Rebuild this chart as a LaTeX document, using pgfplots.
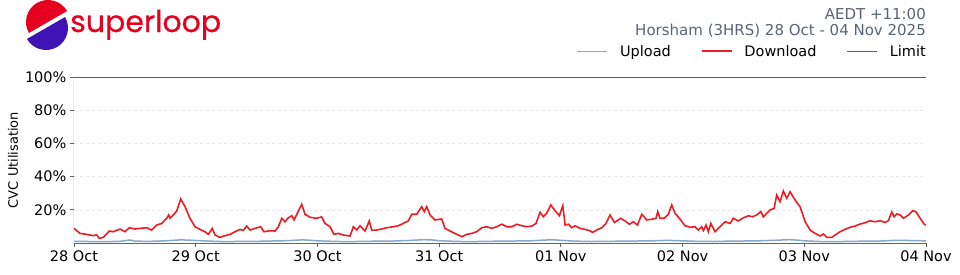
\documentclass[border=0pt]{standalone}
\usepackage{pgfplots}
\pgfplotsset{compat=1.18}
\usepackage{fontspec}
\setmainfont{DejaVu Sans}
\newfontfamily\logofont[FakeBold=0.6]{Poppins}
\definecolor{dl}{RGB}{238,28,36}
\definecolor{ul}{RGB}{135,168,205}
\definecolor{lim}{RGB}{80,80,200}
\definecolor{ttl}{RGB}{90,100,115}
\definecolor{axgray}{RGB}{100,100,100}
\definecolor{logored}{RGB}{228,0,30}
\definecolor{logopurple}{RGB}{64,20,180}

\pgfplotstableread{
x y
0 8.8
0.049 5.8
0.104 5.2
0.159 4.4
0.185 5.0
0.208 2.8
0.241 3.4
0.29 7.2
0.323 6.8
0.378 8.4
0.419 6.8
0.454 9.2
0.501 8.4
0.542 8.8
0.597 9.2
0.638 7.8
0.68 10.8
0.721 11.8
0.762 14.9
0.778 16.9
0.789 14.9
0.816 16.9
0.844 19.3
0.877 26.5
0.912 21.9
0.953 14.9
0.994 9.8
1.035 8.2
1.076 6.8
1.104 5.2
1.136 8.8
1.159 4.8
1.2 3.4
1.241 4.4
1.282 5.2
1.323 6.8
1.364 8.2
1.392 7.6
1.419 10.2
1.446 7.8
1.487 8.8
1.534 9.8
1.561 6.8
1.611 7.4
1.652 7.2
1.679 9.8
1.707 14.9
1.734 12.8
1.761 15.2
1.789 16.4
1.808 13.9
1.835 17.9
1.871 23.3
1.898 17.3
1.939 15.5
1.994 14.9
2.035 15.7
2.062 11.8
2.104 9.8
2.136 5.2
2.172 5.8
2.213 4.8
2.268 4.2
2.295 9.8
2.323 7.8
2.35 10.4
2.391 7.2
2.426 13.3
2.446 7.8
2.487 7.8
2.528 8.4
2.569 9.2
2.624 9.8
2.665 10.4
2.706 11.8
2.747 13.3
2.775 17.3
2.816 17.3
2.857 21.9
2.878 18.9
2.898 21.9
2.925 16.9
2.966 13.9
3.021 14.5
3.048 8.8
3.09 7.2
3.145 5.2
3.186 3.8
3.227 5.2
3.268 5.8
3.309 6.8
3.35 9.2
3.391 9.8
3.432 8.8
3.473 9.8
3.514 11.3
3.555 9.8
3.597 9.8
3.638 11.3
3.679 10.4
3.72 9.8
3.761 10.2
3.796 11.8
3.829 18.5
3.856 15.8
3.884 17.9
3.917 22.9
3.952 19.5
3.988 16.4
4.016 22.5
4.035 10.8
4.062 11.3
4.09 9.2
4.117 10.4
4.158 8.8
4.199 8.2
4.23 7.6
4.262 6.4
4.295 7.8
4.336 9.2
4.371 11.8
4.404 16.9
4.44 12.4
4.46 13.3
4.492 14.9
4.527 13.3
4.563 11.3
4.596 12.8
4.629 10.8
4.665 17.3
4.706 13.9
4.747 14.3
4.782 14.9
4.796 18.9
4.815 14.9
4.85 14.9
4.883 17.3
4.911 22.9
4.938 17.9
4.979 14.4
5.02 10.4
5.062 9.5
5.103 9.8
5.13 7.8
5.157 9.8
5.171 7.5
5.193 10.8
5.212 6.8
5.232 11.8
5.267 6.8
5.308 9.8
5.349 12.8
5.39 11.8
5.417 14.9
5.459 13.3
5.5 15.2
5.541 16.4
5.575 15.8
5.61 16.9
5.643 18.9
5.664 15.8
5.692 17.9
5.719 19.9
5.752 20.9
5.774 28.9
5.801 24.9
5.828 31.3
5.856 26.9
5.883 30.9
5.924 25.9
5.965 21.9
6.007 12.8
6.048 7.8
6.089 5.8
6.13 4.2
6.157 5.4
6.185 3.4
6.226 3.4
6.253 4.8
6.294 6.8
6.335 8.2
6.376 9.5
6.417 10.2
6.458 11.4
6.499 12.2
6.54 13.4
6.582 12.8
6.623 13.4
6.664 12.4
6.691 13.4
6.719 18.7
6.738 15.8
6.76 17.5
6.788 16.9
6.815 14.9
6.856 16.9
6.892 19.5
6.919 18.7
6.952 14.9
6.984 11.4
7.0 10.8
}\download

\pgfplotstableread{
x y
0 1.0
0.125 0.9
0.25 0.8
0.375 1.0
0.46 1.8
0.5 1.1
0.625 1.0
0.75 1.3
0.875 1.9
0.95 1.7
1.0 1.5
1.125 1.1
1.25 0.8
1.375 1.0
1.5 1.0
1.625 1.2
1.75 1.4
1.875 1.9
1.95 1.6
2.0 1.3
2.125 1.0
2.25 0.8
2.375 1.0
2.5 1.1
2.625 1.2
2.75 1.5
2.875 2.0
2.95 1.8
3.0 1.4
3.125 1.0
3.25 0.8
3.375 1.0
3.5 1.1
3.625 1.2
3.75 1.3
3.875 1.8
3.95 1.9
4.0 1.6
4.125 1.1
4.25 0.9
4.375 1.0
4.5 1.1
4.625 1.2
4.75 1.3
4.875 1.6
5.0 1.3
5.125 1.0
5.25 0.9
5.375 1.1
5.5 1.2
5.625 1.3
5.75 1.6
5.875 2.0
5.95 1.7
6.0 1.3
6.125 0.9
6.25 0.8
6.375 1.0
6.5 1.1
6.625 1.2
6.75 1.6
6.875 1.5
7.0 1.3
}\upload

\begin{document}
\begin{tikzpicture}
\useasboundingbox (0,0) rectangle (960pt,274pt);
\begin{scope}
\clip (0,0) rectangle (960pt,274pt);
\fill[logored] (48pt,252pt) ++(30:22pt) arc[start angle=30, end angle=210, radius=22pt] -- cycle;
\fill[logopurple] (46pt,246pt) ++(210:22pt) arc[start angle=210, end angle=390, radius=22pt] -- cycle;
\end{scope}
\node[anchor=base west, inner sep=0pt, text=logored, font=\logofont\fontsize{30}{33}\selectfont] at (70pt,242pt) {superloop};
\node[anchor=base east, inner sep=0pt, text=ttl, font=\fontsize{15}{18}\selectfont] at (926pt,255pt) {AEDT +11:00};
\node[anchor=base east, inner sep=0pt, text=ttl, font=\fontsize{15}{18}\selectfont] at (926pt,239pt) {Horsham (3HRS) 28 Oct - 04 Nov 2025};
\begin{axis}[
  at={(74pt,31pt)}, anchor=south west,
  width=852pt, height=166pt, scale only axis,
  xmin=0, xmax=7, ymin=0, ymax=100,
  axis line style={draw=none},
  tick pos=left,
  xtick={0,1,2,3,4,5,6,7},
  xticklabels={28 Oct,29 Oct,30 Oct,31 Oct,01 Nov,02 Nov,03 Nov,04 Nov},
  ytick={20,40,60,80,100},
  yticklabel={\pgfmathprintnumber{\tick}\%},
  ymajorgrids,
  grid style={dashed, color=gray!18, line width=0.6pt},
  tick style={draw=axgray, line width=0.8pt},
  major tick length=4pt, tick align=outside,
  ticklabel style={font=\fontsize{14.5}{16}\selectfont},
  /pgf/number format/assume math mode=true,
  ylabel={CVC Utilisation},
  ylabel style={font=\fontsize{13}{15}\selectfont, at={(axis description cs:-0.0716,0.5)}, anchor=center},
  legend columns=3,
  legend style={draw=none, fill=none, at={(axis description cs:1,1.155)}, anchor=east,
    inner sep=0pt, font=\fontsize{14.5}{16}\selectfont,
    nodes={inner sep=0pt},
    /tikz/every odd column/.append style={column sep=12pt},
    /tikz/every even column/.append style={column sep=30pt}},
  legend image code/.code={\draw[#1] (0pt,0pt) -- (30pt,0pt);},
]
\draw[axgray, line width=1pt] (rel axis cs:0,1) -- (rel axis cs:0,0) -- (rel axis cs:1,0);
\addplot[ul, line width=1.5pt] table {\upload};
\addlegendentry{Upload}
\addplot[dl, line width=1.6pt] table {\download};
\addlegendentry{Download}
\addplot[lim, line width=1.3pt] coordinates {(0,100) (7,100)};
\addlegendentry{Limit}
\end{axis}
\end{tikzpicture}
\end{document}
